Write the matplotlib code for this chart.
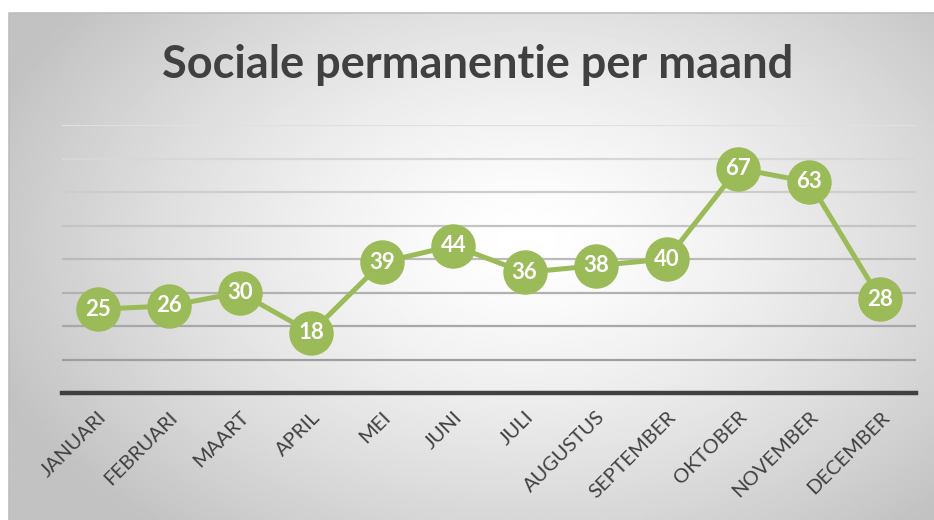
import numpy as np
import matplotlib.pyplot as plt

# Data
months = ["JANUARI", "FEBRUARI", "MAART", "APRIL", "MEI", "JUNI", "JULI",
          "AUGUSTUS", "SEPTEMBER", "OKTOBER", "NOVEMBER", "DECEMBER"]
values = [25, 26, 30, 18, 39, 44, 36, 38, 40, 67, 63, 28]
title = "Sociale permanentie per maand"

plt.rcParams['font.family'] = ['Lato', 'DejaVu Sans']

W, H = 934, 520
fig = plt.figure(figsize=(W / 100, H / 100), dpi=100)
fig.patch.set_facecolor('white')

# radial gradient background panel
bg = fig.add_axes([9 / W, 0, 1 - 9 / W, (H - 13) / H])
bg.set_axis_off()
gx, gy = np.meshgrid(np.linspace(0, 1, 400), np.linspace(0, 1, 300))
r = np.sqrt(((gx - 0.56) / 0.62) ** 2 + ((gy - 0.45) / 0.75) ** 2)
shade = 1 - 0.24 * np.clip(r, 0, 1.0) ** 1.4
bg.imshow(shade, cmap='gray', vmin=0, vmax=1, aspect='auto',
          extent=[0, 1, 0, 1], origin='upper')
bg.set_xlim(0, 1)
bg.set_ylim(0, 1)
bg.plot([0, 0, 1], [0, 1, 1], color='#bdbdbd', lw=1.2, transform=bg.transAxes, clip_on=False)

# chart area
ax = fig.add_axes([62 / W, (H - 393) / H, (916 - 62) / W, (393 - 125) / H])
ax.set_facecolor('none')
ax.set_xlim(0, len(months))
ax.set_ylim(0, 80)
for s in ax.spines.values():
    s.set_visible(False)

# gridlines: darker toward the bottom
grid_levels = np.arange(10, 81, 10)
for lev in grid_levels:
    g = 0.62 + 0.26 * (lev - 10) / 70
    ax.axhline(lev, color=(g, g, g), lw=1.6, zorder=1)
ax.axhline(0, color='#404040', lw=3.2, zorder=2, clip_on=False)

x = np.arange(len(months)) + 0.5
ax.plot(x, values, color='#9bbb59', lw=3.6, zorder=3, clip_on=False,
        marker='o', markersize=32, markerfacecolor='#9bbb59',
        markeredgecolor='#9bbb59', markeredgewidth=0)
for xi, v in zip(x, values):
    ax.text(xi, v, str(v), color='white', fontsize=16, fontweight='bold',
            ha='center', va='center', zorder=4)

ax.set_yticks([])
ax.set_xticks(x)
ax.set_xticklabels(months, rotation=45, ha='right', va='top',
                   rotation_mode='anchor', fontsize=14.5, color='#404040')
ax.tick_params(axis='x', length=0, pad=11)

fig.text(478 / W, 1 - 65 / H, title, ha='center', va='center',
         fontsize=32.5, fontweight='bold', color='#404040')

fig.savefig('out.png', dpi=100)
